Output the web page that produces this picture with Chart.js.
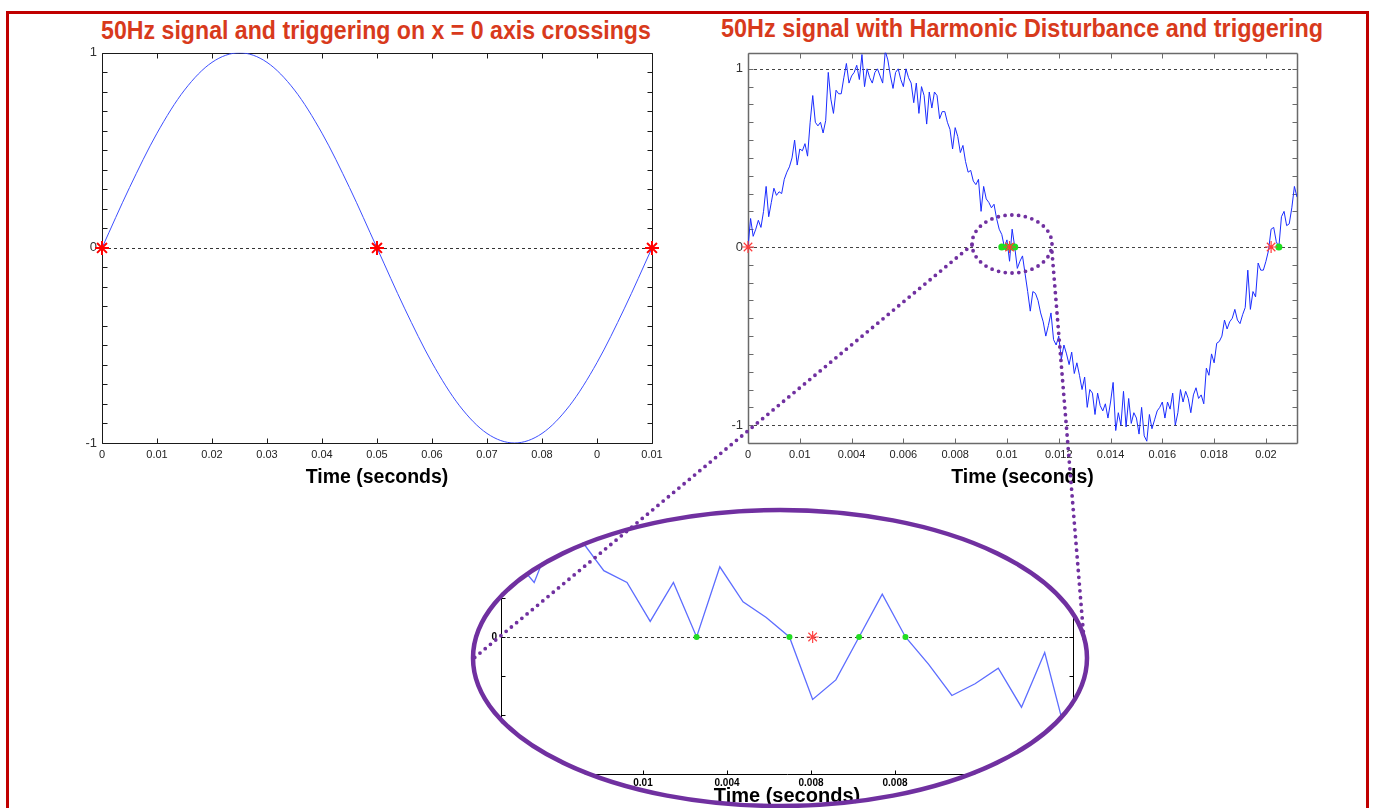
<!DOCTYPE html>
<html>
<head>
<meta charset="utf-8">
<title>50Hz signal triggering</title>
<script src="https://cdn.jsdelivr.net/npm/chart.js@4.4.1/dist/chart.umd.min.js"></script>
<style>
  html, body { margin: 0; padding: 0; background: #fff; }
  body { width: 1374px; height: 808px; position: relative; overflow: hidden;
         font-family: "Liberation Sans", Arial, sans-serif; }
  .panel { position: absolute; }
  .title { position: absolute; color: #d83a1c; font-weight: bold; font-size: 26px;
           white-space: nowrap; }
  #overlay { position: absolute; left: 0; top: 0; pointer-events: none; }
</style>
</head>
<body>

<div class="title" style="left:376px;top:15px;transform:translateX(-50%) scaleX(0.89)">50Hz signal and triggering on x = 0 axis crossings</div>
<div class="title" style="left:1022px;top:13px;transform:translateX(-50%) scaleX(0.9)">50Hz signal with Harmonic Disturbance and triggering</div>

<canvas id="cleanChart" class="panel" width="620" height="460" style="left:50px;top:40px"></canvas>
<canvas id="noisyChart" class="panel" width="620" height="460" style="left:700px;top:40px"></canvas>
<canvas id="zoomChart" class="panel" width="620" height="303" style="left:470px;top:505px"></canvas>

<svg id="overlay" width="1374" height="808">
  <rect x="7.5" y="12.5" width="1360" height="810" fill="none" stroke="#c00000" stroke-width="3"/>
  <ellipse cx="780" cy="658" rx="307" ry="148" fill="none" stroke="#7030a0" stroke-width="4.5"/>
  <g fill="none" stroke="#7030a0" stroke-width="3.8" stroke-linecap="round" stroke-dasharray="0 6.8">
    <ellipse cx="1012" cy="244" rx="40" ry="29"/>
    <line x1="972" y1="245" x2="474" y2="658"/>
    <line x1="1052" y1="252" x2="1084" y2="640"/>
  </g>
</svg>

<script>
// ---------------------------------
// Data
// ---------------------------------

// clean 50Hz reference signal
const cleanTimes = [0, 0.005, 0.01, 0.015, 0.02, 0.025, 0.03, 0.035, 0.04, 0.045, 0.05,
                    0.055, 0.06, 0.065, 0.07, 0.075, 0.08, 0.085, 0.09, 0.095, 0.1];
const cleanValues = [0, 0.309, 0.588, 0.809, 0.951, 1, 0.951, 0.809, 0.588, 0.309, 0,
                     -0.309, -0.588, -0.809, -0.951, -1, -0.951, -0.809, -0.588, -0.309, 0];
const cleanTriggers = [0, 0.05, 0.1];
const cleanTickValues = [0, 0.01, 0.02, 0.03, 0.04, 0.05, 0.06, 0.07, 0.08, 0.09, 0.1];
const cleanTickLabels = ['0', '0.01', '0.02', '0.03', '0.04', '0.05', '0.06', '0.07', '0.08', '0', '0.01'];

// signal with harmonic disturbance, one sample every 0.1 ms
const noisyStep = 0.0001;
const noisyValues = [
  0, 0.16, 0.06, 0.10, 0.15, 0.11, 0.20, 0.34, 0.17, 0.25,
  0.33, 0.29, 0.31, 0.30, 0.38, 0.42, 0.45, 0.50, 0.60, 0.46,
  0.55, 0.54, 0.58, 0.51, 0.70, 0.85, 0.70, 0.68, 0.70, 0.64,
  0.71, 0.98, 0.83, 0.75, 0.88, 0.86, 0.86, 0.95, 1.03, 0.92,
  0.96, 0.98, 1.02, 0.94, 1.08, 0.90, 1.00, 0.95, 0.92, 0.98,
  1.00, 0.96, 0.92, 1.10, 1.05, 0.96, 0.89, 0.98, 1.00, 0.94,
  0.90, 1.00, 0.95, 0.92, 0.81, 0.92, 0.75, 0.90, 0.85, 0.69,
  0.87, 0.78, 0.87, 0.85, 0.72, 0.76, 0.76, 0.70, 0.66, 0.55,
  0.67, 0.62, 0.53, 0.57, 0.48, 0.42, 0.43, 0.37, 0.35, 0.38,
  0.20, 0.34, 0.27, 0.25, 0.22, 0.24, 0.16, 0.10, 0.07, 0.00,
  0.04, -0.08, 0.10, 0.00, -0.12, -0.08, -0.05, -0.15, -0.25, -0.36,
  -0.25, -0.26, -0.30, -0.37, -0.42, -0.50, -0.44, -0.37, -0.52, -0.55,
  -0.50, -0.63, -0.55, -0.60, -0.66, -0.59, -0.71, -0.65, -0.72, -0.80,
  -0.73, -0.90, -0.80, -0.82, -0.94, -0.82, -0.89, -0.92, -0.88, -0.96,
  -0.87, -0.76, -1.03, -0.93, -1.00, -0.81, -1.01, -0.85, -0.99, -0.93,
  -0.96, -1.05, -0.90, -1.06, -1.09, -0.94, -1.02, -0.97, -0.92, -0.90,
  -0.87, -0.96, -0.87, -0.91, -0.82, -1.00, -0.93, -0.80, -0.87, -0.81,
  -0.85, -0.93, -0.83, -0.79, -0.85, -0.83, -0.88, -0.68, -0.72, -0.60,
  -0.65, -0.54, -0.53, -0.50, -0.41, -0.46, -0.42, -0.40, -0.35, -0.41,
  -0.43, -0.38, -0.34, -0.13, -0.35, -0.25, -0.28, -0.09, -0.13, -0.13,
  -0.08, -0.02, 0.10, 0.11, 0.03, 0.00, 0.17, 0.20, 0.12, 0.13,
  0.22, 0.34, 0.28
];
const noisyTriggers = [0, 0.0101, 0.0202];
const noisyCandidates = [0.0098, 0.0100, 0.0102, 0.0103, 0.0205];
const noisyTickValues = [0, 0.002, 0.004, 0.006, 0.008, 0.01, 0.012, 0.014, 0.016, 0.018, 0.02];
const noisyTickLabels = ['0', '0.01', '0.004', '0.006', '0.008', '0.01', '0.012', '0.014', '0.016', '0.018', '0.02'];
const noisyLevels = [1, 0, -1];

// zoomed window round the middle crossing (x = sample number)
const zoomValues = [0.21, 0.14, 0.29, 0.25, 0.17, 0.14, 0.04, 0.14, 0, 0.18,
                    0.09, 0.05, 0, -0.16, -0.11, 0, 0.11, 0, -0.07, -0.15,
                    -0.12, -0.08, -0.18, -0.04, -0.27];
const zoomCandidates = [8, 12, 15, 17];
const zoomTriggers = [13];
const zoomTickValues = [5.69, 9.31, 12.93, 16.55, 20.17];
const zoomTickLabels = ['0.01', '0.004', '0.008', '0.008', '0.01'];

const yLabelValues = [-1, 0, 1];

// ---------------------------------
// Helpers
// ---------------------------------

const plain = '"Liberation Sans", Arial, sans-serif';

function tenthTicks(from, to) {
    const ticks = [];
    for (let i = Math.round(from * 10); i <= Math.round(to * 10); i++) ticks.push({ value: i / 10 });
    return ticks;
}

function yLabel(v) {
    return yLabelValues.some(l => Math.abs(l - v) < 1e-9) ? String(Math.round(v)) : '';
}

// frame, inward tick marks and dashed reference lines (matlab look)
const axesFrame = {
    id: 'axesFrame',
    beforeDatasetsDraw(chart, args, o) {
        const { ctx, chartArea: a } = chart;
        const xs = chart.scales.x, ys = chart.scales.y;
        const px = v => Math.round(xs.getPixelForValue(v)) + 0.5;
        const py = v => Math.round(ys.getPixelForValue(v)) + 0.5;
        ctx.save();

        ctx.strokeStyle = o.dashColor;
        ctx.lineWidth = 1;
        ctx.setLineDash([3, 3]);
        ctx.beginPath();
        (o.levels || []).forEach(l => {
            ctx.moveTo(a.left, py(l));
            ctx.lineTo(a.right, py(l));
        });
        ctx.stroke();
        ctx.setLineDash([]);

        ctx.strokeStyle = o.color;
        ctx.lineWidth = o.width;
        ctx.beginPath();
        const L = Math.round(a.left) + 0.5, R = Math.round(a.right) + 0.5;
        const T = Math.round(a.top) + 0.5, B = Math.round(a.bottom) + 0.5;
        if (o.sides.includes('l')) { ctx.moveTo(L, T); ctx.lineTo(L, B); }
        if (o.sides.includes('r')) { ctx.moveTo(R, T); ctx.lineTo(R, B); }
        if (o.sides.includes('t')) { ctx.moveTo(L, T); ctx.lineTo(R, T); }
        if (o.sides.includes('b')) { ctx.moveTo(L, B); ctx.lineTo(R, B); }
        ctx.stroke();

        ctx.lineWidth = 1;
        ctx.beginPath();
        xs.ticks.forEach(t => {
            const x = px(t.value);
            if (o.sides.includes('b')) { ctx.moveTo(x, B); ctx.lineTo(x, B - o.len); }
            if (o.sides.includes('t')) { ctx.moveTo(x, T); ctx.lineTo(x, T + o.len); }
        });
        ys.ticks.forEach(t => {
            const y = py(t.value);
            if (o.sides.includes('l')) { ctx.moveTo(L, y); ctx.lineTo(L + o.len, y); }
            if (o.sides.includes('r')) { ctx.moveTo(R, y); ctx.lineTo(R - o.len, y); }
        });
        ctx.stroke();
        ctx.restore();
    }
};

// everything in the zoom view is seen through the ellipse
const ellipseClip = {
    id: 'ellipseClip',
    beforeDraw(chart, args, o) {
        const ctx = chart.ctx;
        ctx.save();
        ctx.beginPath();
        ctx.ellipse(o.cx, o.cy, o.rx, o.ry, 0, 0, Math.PI * 2);
        ctx.clip();
    },
    afterDraw(chart) {
        chart.ctx.restore();
    }
};

const baseOptions = () => ({
    responsive: false,
    animation: false,
    events: [],
    plugins: { legend: { display: false }, tooltip: { enabled: false } }
});

// ---------------------------------
// Clean signal chart
// ---------------------------------

const cleanOpts = baseOptions();
cleanOpts.layout = { padding: { left: 0, right: 18, top: 10, bottom: 0 } };
cleanOpts.plugins.axesFrame = { color: '#1a1a1a', width: 1, len: 5, sides: 'lrtb', levels: [0], dashColor: '#333' };
cleanOpts.scales = {
    x: {
        type: 'linear', min: 0, max: 0.1,
        afterBuildTicks: s => { s.ticks = cleanTickValues.map(v => ({ value: v })); },
        afterFit: s => { s.height = 57; },
        grid: { display: false, drawTicks: false }, border: { display: false },
        ticks: { callback: (v, i) => cleanTickLabels[i], autoSkip: false, maxRotation: 0,
                 padding: 5, color: '#222', font: { family: plain, size: 11 } },
        title: { display: true, text: 'Time (seconds)', color: '#000',
                 font: { family: plain, size: 19.5, weight: 'bold' }, padding: { top: 0, bottom: 11 } }
    },
    y: {
        min: -1, max: 1,
        afterBuildTicks: s => { s.ticks = tenthTicks(-1, 1); },
        afterFit: s => { s.width = 52; },
        grid: { display: false, drawTicks: false }, border: { display: false },
        ticks: { callback: yLabel, autoSkip: false, padding: 5, color: '#333', font: { family: plain, size: 13 } }
    }
};

new Chart(document.getElementById('cleanChart'), {
    type: 'line',
    data: {
        datasets: [
            { data: cleanTriggers.map(t => ({ x: t, y: 0 })), showLine: false, pointStyle: 'star',
              pointRadius: 7, borderColor: '#ff0000', borderWidth: 2, clip: false },
            { data: cleanTimes.map((t, i) => ({ x: t, y: cleanValues[i] })), borderColor: '#3d4fff',
              borderWidth: 1, pointRadius: 0, cubicInterpolationMode: 'monotone' }
        ]
    },
    options: cleanOpts,
    plugins: [axesFrame]
});

// ---------------------------------
// Disturbed signal chart
// ---------------------------------

const noisyOpts = baseOptions();
noisyOpts.layout = { padding: { left: 0, right: 23, top: 10, bottom: 0 } };
noisyOpts.plugins.axesFrame = { color: '#6a6a6a', width: 1.5, len: 5, sides: 'lrtb', levels: noisyLevels, dashColor: '#444' };
noisyOpts.scales = {
    x: {
        type: 'linear', min: 0, max: 0.0212,
        afterBuildTicks: s => { s.ticks = noisyTickValues.map(v => ({ value: v })); },
        afterFit: s => { s.height = 57; },
        grid: { display: false, drawTicks: false }, border: { display: false },
        ticks: { callback: (v, i) => noisyTickLabels[i], autoSkip: false, maxRotation: 0,
                 padding: 5, color: '#222', font: { family: plain, size: 11 } },
        title: { display: true, text: 'Time (seconds)', color: '#000',
                 font: { family: plain, size: 19.5, weight: 'bold' }, padding: { top: 0, bottom: 11 } }
    },
    y: {
        min: -1.1, max: 1.09,
        afterBuildTicks: s => { s.ticks = tenthTicks(-1, 1); },
        afterFit: s => { s.width = 48; },
        grid: { display: false, drawTicks: false }, border: { display: false },
        ticks: { callback: yLabel, autoSkip: false, padding: 5, color: '#333', font: { family: plain, size: 13 } }
    }
};

new Chart(document.getElementById('noisyChart'), {
    type: 'line',
    data: {
        datasets: [
            { data: noisyTriggers.map(t => ({ x: t, y: 0 })), showLine: false, pointStyle: 'star',
              pointRadius: 6, borderColor: '#ff3b3b', borderWidth: 1.2, clip: false },
            { data: noisyCandidates.map(t => ({ x: t, y: 0 })), showLine: false, pointStyle: 'circle',
              pointRadius: 3.5, backgroundColor: '#1ee01e', borderColor: '#1ee01e', borderWidth: 0, clip: false },
            { data: noisyValues.map((v, k) => ({ x: k * noisyStep, y: v })), borderColor: '#1a2cff',
              borderWidth: 1, pointRadius: 0, tension: 0 }
        ]
    },
    options: noisyOpts,
    plugins: [axesFrame]
});

// ---------------------------------
// Zoomed crossing
// ---------------------------------

const zoomOpts = baseOptions();
zoomOpts.layout = { padding: { left: 6, right: 17, top: 15, bottom: 0 } };
zoomOpts.plugins.axesFrame = { color: '#000', width: 1, len: 4, sides: 'lrb', levels: [0], dashColor: '#333' };
zoomOpts.plugins.ellipseClip = { cx: 310, cy: 153, rx: 309, ry: 150 };
zoomOpts.scales = {
    x: {
        type: 'linear', min: -0.43, max: 24.22,
        afterBuildTicks: s => { s.ticks = zoomTickValues.map(v => ({ value: v })); },
        afterFit: s => { s.height = 34; },
        grid: { display: false, drawTicks: false }, border: { display: false },
        ticks: { callback: (v, i) => zoomTickLabels[i], autoSkip: false, maxRotation: 0,
                 padding: 3, color: '#000', font: { family: plain, size: 10, weight: 'bold' } },
        title: { display: true, text: 'Time (seconds)', color: '#000',
                 font: { family: plain, size: 20, weight: 'bold' }, padding: { top: 0, bottom: 0 } }
    },
    y: {
        min: -0.3513, max: 0.3,
        afterBuildTicks: s => { s.ticks = tenthTicks(-0.3, 0.3); },
        afterFit: s => { s.width = 25; },
        grid: { display: false, drawTicks: false }, border: { display: false },
        ticks: { callback: v => (Math.abs(v) < 1e-9 ? '0' : ''), autoSkip: false, padding: 4,
                 color: '#000', font: { family: plain, size: 10, weight: 'bold' } }
    }
};

new Chart(document.getElementById('zoomChart'), {
    type: 'line',
    data: {
        datasets: [
            { data: zoomTriggers.map(i => ({ x: i, y: 0 })), showLine: false, pointStyle: 'star',
              pointRadius: 6, borderColor: '#ff4444', borderWidth: 1.2, clip: false },
            { data: zoomCandidates.map(i => ({ x: i, y: 0 })), showLine: false, pointStyle: 'circle',
              pointRadius: 3, backgroundColor: '#22dd22', borderColor: '#22dd22', borderWidth: 0, clip: false },
            { data: zoomValues.map((v, i) => ({ x: i, y: v })), borderColor: '#5d6dff',
              borderWidth: 1.3, pointRadius: 0, tension: 0, clip: false }
        ]
    },
    options: zoomOpts,
    plugins: [axesFrame, ellipseClip]
});
</script>
</body>
</html>
